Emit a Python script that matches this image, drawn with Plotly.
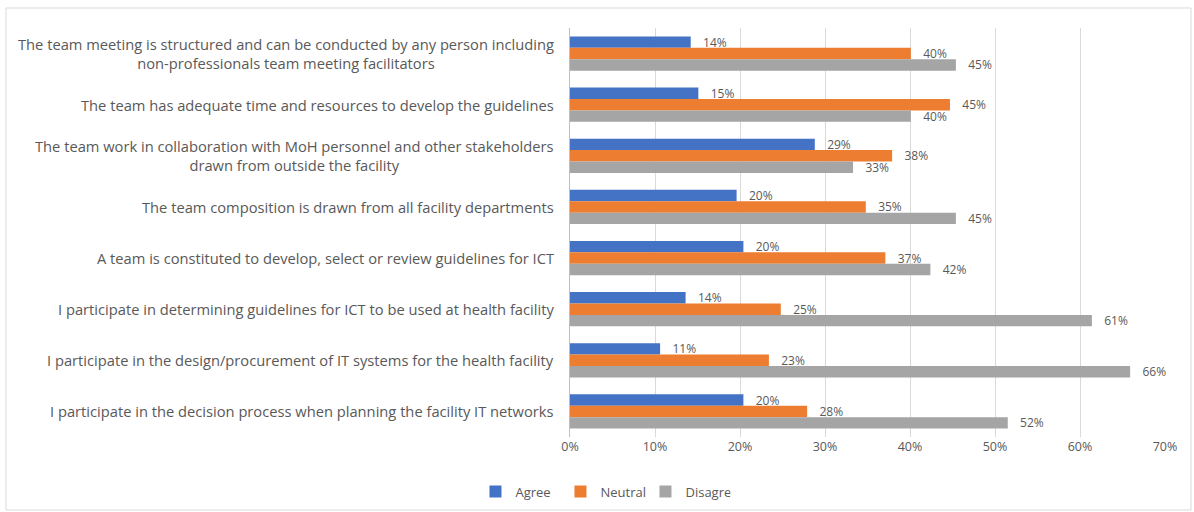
import plotly.graph_objects as go

categories = [
    "The team meeting is structured and can be conducted by any person including<br>non-professionals team meeting facilitators",
    "The team has adequate time and resources to develop the guidelines",
    "The team work in collaboration with MoH personnel and other stakeholders<br>drawn from outside the facility",
    "The team composition is drawn from all facility departments",
    "A team is constituted to develop, select or review guidelines for ICT",
    "I participate in determining guidelines for ICT to be used at health facility",
    "I participate in the design/procurement of IT systems for the health facility",
    "I participate in the decision process when planning the facility IT networks",
]
agree = [0.142, 0.151, 0.288, 0.196, 0.204, 0.136, 0.106, 0.204]
neutral = [0.401, 0.447, 0.379, 0.348, 0.371, 0.248, 0.234, 0.279]
disagree = [0.454, 0.401, 0.333, 0.454, 0.424, 0.614, 0.659, 0.515]
tick_vals = [0, 0.1, 0.2, 0.3, 0.4, 0.5, 0.6, 0.7]
tick_text = ["0%", "10%", "20%", "30%", "40%", "50%", "60%", "70%"]

series = [("Agree", agree, "#4472C4"), ("Neutral", neutral, "#ED7D31"), ("Disagree", disagree, "#A5A5A5")]

FONT = "Open Sans"
GRAY = "#595959"

fig = go.Figure()
for name, vals, color in series:
    fig.add_trace(go.Bar(
        y=categories, x=vals, name=name, orientation="h",
        marker=dict(color=color, line=dict(width=0)),
        texttemplate="   %{x:.0%}", textposition="outside",
        textfont=dict(family=FONT, size=12, color=GRAY),
        cliponaxis=False, constraintext="none",
    ))

for c in categories:
    fig.add_annotation(
        x=0, xref="paper", y=c, yref="y", text=c, showarrow=False,
        xanchor="right", align="center", xshift=-14,
        font=dict(family=FONT, size=14.7, color=GRAY),
    )

fig.update_layout(
    width=1194, height=512,
    margin=dict(l=570, r=29, t=28, b=75),
    paper_bgcolor="white", plot_bgcolor="white",
    barmode="group", bargap=0.33, bargroupgap=0,
    font=dict(family=FONT, color=GRAY),
    showlegend=True,
    legend=dict(orientation="h", xref="container", x=0.505, xanchor="center",
                yref="container", y=0.04, yanchor="middle",
                font=dict(family=FONT, size=13, color=GRAY),
                itemwidth=30, traceorder="normal",
                entrywidth=40, entrywidthmode="pixels"),
    xaxis=dict(range=[0, 0.7], tickvals=tick_vals, ticktext=tick_text,
               showgrid=True, gridcolor="#D9D9D9", gridwidth=1,
               zeroline=False, showline=False, ticks="",
               tickfont=dict(family=FONT, size=12.5, color=GRAY)),
    yaxis=dict(autorange="reversed", showticklabels=False, ticks="",
               showline=True, linecolor="#BFBFBF", linewidth=1,
               showgrid=False, zeroline=False),
    shapes=[dict(type="rect", xref="paper", yref="paper",
                 x0=(6 - 570) / 595, x1=(1191 - 570) / 595,
                 y0=(437 - 510) / 409, y1=(437 - 8) / 409,
                 line=dict(color="#D9D9D9", width=1), layer="below")],
)

fig.write_html("out.html", config={"displayModeBar": False},
               post_script="document.body.style.margin='0px';document.body.style.overflow='hidden';")
